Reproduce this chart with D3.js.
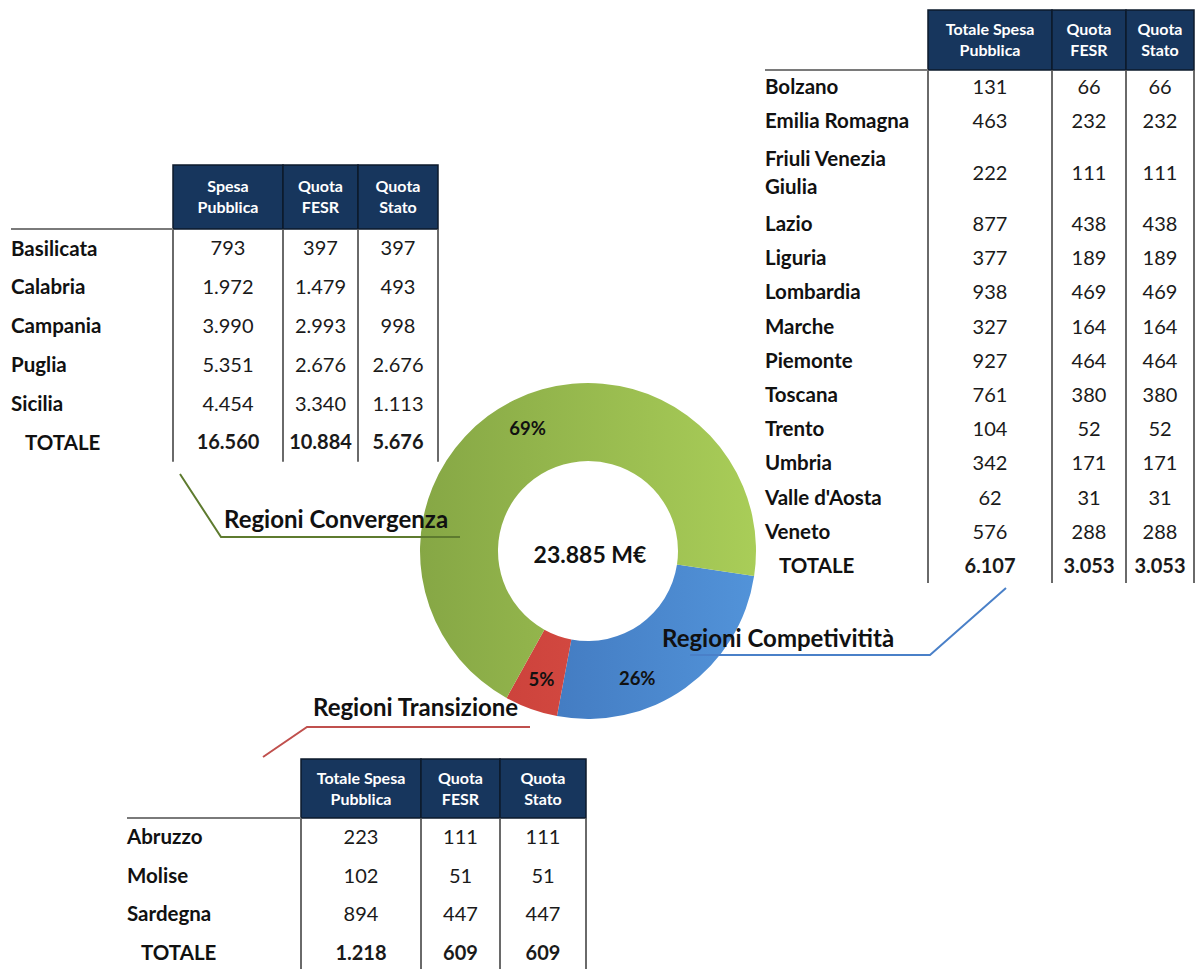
<!DOCTYPE html>
<html>
<head>
<meta charset="utf-8">
<script src="https://cdn.jsdelivr.net/npm/d3@7"></script>
<style>
  body { margin: 0; background: #fff; }
  text { font-family: Lato, "Open Sans", sans-serif; }
</style>
</head>
<body>
<div id="app"></div>
<script>
// Regioni Convergenza
const convergenzaRegioni = ["Basilicata", "Calabria", "Campania", "Puglia", "Sicilia"]
const convergenzaSpesa = [793, 1972, 3990, 5351, 4454]
const convergenzaFesr = [397, 1479, 2993, 2676, 3340]
const convergenzaStato = [397, 493, 998, 2676, 1113]
const convergenzaTotale = [16560, 10884, 5676]

// Regioni Competitività
const competitivitaRegioni = ["Bolzano", "Emilia Romagna", "Friuli Venezia Giulia", "Lazio", "Liguria",
  "Lombardia", "Marche", "Piemonte", "Toscana", "Trento", "Umbria", "Valle d'Aosta", "Veneto"]
const competitivitaSpesa = [131, 463, 222, 877, 377, 938, 327, 927, 761, 104, 342, 62, 576]
const competitivitaFesr = [66, 232, 111, 438, 189, 469, 164, 464, 380, 52, 171, 31, 288]
const competitivitaStato = [66, 232, 111, 438, 189, 469, 164, 464, 380, 52, 171, 31, 288]
const competitivitaTotale = [6107, 3053, 3053]

// Regioni Transizione
const transizioneRegioni = ["Abruzzo", "Molise", "Sardegna"]
const transizioneSpesa = [223, 102, 894]
const transizioneFesr = [111, 51, 447]
const transizioneStato = [111, 51, 447]
const transizioneTotale = [1218, 609, 609]

const headerShort = [["Spesa", "Pubblica"], ["Quota", "FESR"], ["Quota", "Stato"]]
const headerLong = [["Totale Spesa", "Pubblica"], ["Quota", "FESR"], ["Quota", "Stato"]]

// donut
const donutCategories = ["Regioni Competivitità", "Regioni Transizione", "Regioni Convergenza"]
const donutValues = [competitivitaTotale[0], transizioneTotale[0], convergenzaTotale[0]]

const itLocale = d3.formatLocale({ decimal: ",", thousands: ".", grouping: [3], currency: ["", "€"] })
const fmt = itLocale.format(",d")
const fmtPct = itLocale.format(".0%")

const width = 1200
const height = 969

const svg = d3.select("#app").append("svg")
    .attr("width", width)
    .attr("height", height)

svg.append("rect").attr("width", width).attr("height", height).attr("fill", "#fff")

const defs = svg.append("defs")

//#region donut
const cx = 588, cy = 551
const outerR = 168, innerR = 90

const sliceColors = {
  "Regioni Competivitità": ["#3a6db3", "#5293d9"],
  "Regioni Transizione": ["#c63c36", "#e0564c"],
  "Regioni Convergenza": ["#86a745", "#a9cd58"],
}
// gradient runs left to right across the whole ring (paths are drawn centred at 0,0)
donutCategories.forEach((c, i) => {
  const g = defs.append("linearGradient")
      .attr("id", "grad" + i)
      .attr("gradientUnits", "userSpaceOnUse")
      .attr("x1", -outerR).attr("x2", outerR)
      .attr("y1", 0).attr("y2", 0)
  g.append("stop").attr("offset", "0%").attr("stop-color", sliceColors[c][0])
  g.append("stop").attr("offset", "100%").attr("stop-color", sliceColors[c][1])
})

const startAngle = 98.6 * Math.PI / 180
const pie = d3.pie()
    .sort(null)
    .value(d => d.value)
    .startAngle(startAngle)
    .endAngle(startAngle + 2 * Math.PI)

const donutData = donutCategories.map((c, i) => ({ name: c, value: donutValues[i], idx: i }))
const arcs = pie(donutData)
const total = d3.sum(donutValues)

const arc = d3.arc().innerRadius(innerR).outerRadius(outerR)

const donut = svg.append("g")
    .attr("transform", `translate(${cx},${cy})`)

donut.selectAll("path")
  .data(arcs)
  .join("path")
    .attr("d", arc)
    .attr("fill", d => `url(#grad${d.data.idx})`)

// percent labels, the Competitività one is nudged like in the original
const labelShift = { "Regioni Competivitità": 0.25 }
const labelArc = d3.arc().innerRadius(innerR + 8).outerRadius(outerR + 8)
donut.selectAll("text.pct")
  .data(arcs)
  .join("text")
    .attr("class", "pct")
    .attr("transform", d => {
      const s = labelShift[d.data.name] || 0
      const c = labelArc.centroid({ startAngle: d.startAngle + s, endAngle: d.endAngle + s })
      return `translate(${c})`
    })
    .attr("text-anchor", "middle")
    .attr("dy", "0.35em")
    .style("font-size", "18.5px")
    .style("font-weight", 700)
    .attr("fill", "#111")
    .text(d => fmtPct(d.value / total))

donut.append("text")
    .attr("x", 2)
    .attr("y", 4)
    .attr("dy", "0.35em")
    .attr("text-anchor", "middle")
    .style("font-size", "23px")
    .style("font-weight", 700)
    .attr("fill", "#111")
    .text(`${fmt(total)} M€`)
//#endregion

//#region tables
function drawTable(cfg) {
  const g = svg.append("g")
  const cols = cfg.colX
  const nCols = cols.length - 1
  const rowsData = cfg.regions.map((r, i) => ({
    label: r,
    values: cfg.series.map(s => s[i]),
  }))
  rowsData.push({ label: "TOTALE", values: cfg.totals, total: true })

  // header boxes
  for (let c = 0; c < nCols; c++) {
    g.append("rect")
        .attr("x", cols[c])
        .attr("y", cfg.headerTop)
        .attr("width", cols[c + 1] - cols[c])
        .attr("height", cfg.headerBottom - cfg.headerTop)
        .attr("fill", "#17365d")
        .attr("stroke", "#0d1a2b")
        .attr("stroke-width", 1.5)
    const mid = (cfg.headerTop + cfg.headerBottom) / 2
    const lines = cfg.header[c]
    lines.forEach((t, k) => {
      g.append("text")
          .attr("x", (cols[c] + cols[c + 1]) / 2)
          .attr("y", mid + (k - (lines.length - 1) / 2) * 21)
          .attr("dy", "0.35em")
          .attr("text-anchor", "middle")
          .attr("fill", "#fff")
          .style("font-size", "16px")
          .style("font-weight", 700)
          .text(t)
    })
  }

  // rows
  let y = cfg.headerBottom
  const labelMax = cols[0] - cfg.labelX - 6
  rowsData.forEach(row => {
    const lx = cfg.labelX + (row.total ? 14 : 0)
    const probe = g.append("text")
        .style("font-size", "20.5px").style("font-weight", 700)
        .text(row.label)
    let lines = [row.label]
    if (probe.node().getComputedTextLength() > labelMax) {
      const words = row.label.split(" ")
      lines = [words.slice(0, -1).join(" "), words[words.length - 1]]
    }
    probe.remove()
    const h = cfg.rowStep * lines.length
    const center = y + h / 2
    lines.forEach((t, k) => {
      g.append("text")
          .attr("x", lx)
          .attr("y", center + (k - (lines.length - 1) / 2) * 28)
          .attr("dy", "0.35em")
          .attr("fill", "#111")
          .style("font-size", "20.5px")
          .style("font-weight", 700)
          .text(t)
    })
    row.values.forEach((v, c) => {
      g.append("text")
          .attr("x", (cols[c] + cols[c + 1]) / 2)
          .attr("y", center)
          .attr("dy", "0.35em")
          .attr("text-anchor", "middle")
          .attr("fill", "#1a1a1a")
          .style("font-size", "20px")
          .style("font-weight", row.total ? 700 : 400)
          .text(fmt(v))
    })
    y += h
  })

  const bottom = Math.min(y, height)
  g.selectAll("line.v")
    .data(cols)
    .join("line")
      .attr("class", "v")
      .attr("x1", d => d).attr("x2", d => d)
      .attr("y1", cfg.headerBottom).attr("y2", bottom)
      .attr("stroke", "#5a5a5a")
      .attr("stroke-width", 1.8)

  g.append("line")
      .attr("x1", cfg.labelX).attr("x2", cols[0])
      .attr("y1", cfg.headerBottom).attr("y2", cfg.headerBottom)
      .attr("stroke", "#7a7a7a")
      .attr("stroke-width", 2)
}

drawTable({
  regions: convergenzaRegioni,
  series: [convergenzaSpesa, convergenzaFesr, convergenzaStato],
  totals: convergenzaTotale,
  header: headerShort,
  labelX: 11,
  colX: [173, 283, 358, 438],
  headerTop: 165, headerBottom: 229,
  rowStep: 38.8,
})

drawTable({
  regions: competitivitaRegioni,
  series: [competitivitaSpesa, competitivitaFesr, competitivitaStato],
  totals: competitivitaTotale,
  header: headerLong,
  labelX: 765,
  colX: [928, 1052, 1126, 1194],
  headerTop: 10, headerBottom: 70,
  rowStep: 34.2,
})

drawTable({
  regions: transizioneRegioni,
  series: [transizioneSpesa, transizioneFesr, transizioneStato],
  totals: transizioneTotale,
  header: headerLong,
  labelX: 127,
  colX: [301, 421, 500, 586],
  headerTop: 759, headerBottom: 818,
  rowStep: 38.5,
})
//#endregion

//#region callouts
const callouts = [
  { name: "Regioni Convergenza", color: "#5e7b2f", tx: 224, ty: 528,
    path: [[180, 474], [221, 537], [460, 537]] },
  { name: "Regioni Competivitità", color: "#4a80c8", tx: 662, ty: 647,
    path: [[690, 655], [930, 655], [1006, 588]] },
  { name: "Regioni Transizione", color: "#c0504d", tx: 313, ty: 716,
    path: [[263, 757], [307, 727], [530, 727]] },
]
const line = d3.line()
svg.selectAll("path.callout")
  .data(callouts)
  .join("path")
    .attr("class", "callout")
    .attr("d", d => line(d.path))
    .attr("fill", "none")
    .attr("stroke", d => d.color)
    .attr("stroke-width", 2)

svg.selectAll("text.callout")
  .data(callouts)
  .join("text")
    .attr("class", "callout")
    .attr("x", d => d.tx)
    .attr("y", d => d.ty)
    .attr("fill", "#111")
    .style("font-size", "24px")
    .style("font-weight", 700)
    .text(d => d.name)
//#endregion
</script>
</body>
</html>
